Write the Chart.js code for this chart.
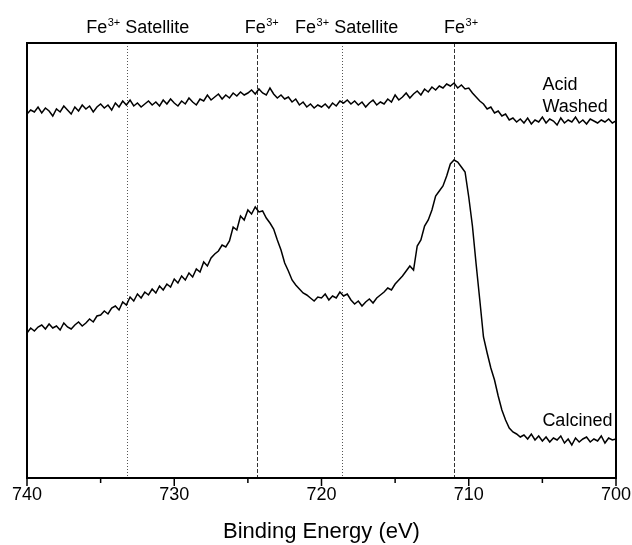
<!DOCTYPE html>
<html>
<head>
<meta charset="utf-8">
<script src="https://cdn.jsdelivr.net/npm/chart.js@4/dist/chart.umd.min.js"></script>
<style>
  html, body { margin: 0; padding: 0; background: #fff; }
  canvas { display: block; }
</style>
</head>
<body>
<canvas id="xps-chart" width="632" height="545"></canvas>
<script>
// --- DATA (intensity in arbitrary units, sampled every 0.25 eV from 740 down to 700) ---
const ENERGY_START = 740;
const ENERGY_STEP = 0.25;

const acidWashed = [
  364, 368, 366, 371, 365, 370, 367, 362,   // 740 - 738.25
  369, 366, 372, 368, 364, 371, 367, 373,   // 738 - 736.25
  369, 372, 366, 371, 374, 370, 373, 368,   // 736 - 734.25
  375, 371, 377, 373, 378, 372, 375, 371,   // 734 - 732.25
  374, 377, 373, 376, 372, 378, 374, 379,   // 732 - 730.25
  375, 372, 377, 374, 380, 376, 373, 379,   // 730 - 728.25
  377, 383, 378, 381, 384, 379, 383, 380,   // 728 - 726.25
  385, 382, 386, 383, 385, 388, 384, 389,   // 726 - 724.25
  385, 383, 390, 384, 380, 383, 379, 381,   // 724 - 722.25
  376, 379, 373, 376, 371, 374, 370, 373,   // 722 - 720.25
  371, 374, 370, 375, 372, 377, 375, 378,   // 720 - 718.25
  374, 377, 373, 376, 371, 375, 378, 373,   // 718 - 716.25
  376, 374, 379, 376, 383, 378, 381, 385,   // 716 - 714.25
  380, 384, 387, 383, 389, 386, 391, 388,   // 714 - 712.25
  392, 390, 394, 392, 395, 390, 393, 389,   // 712 - 710.25
  390, 385, 381, 377, 374, 369, 371, 365,   // 710 - 708.25
  367, 362, 364, 358, 360, 356, 359, 355,   // 708 - 706.25
  360, 354, 358, 356, 361, 355, 359, 357,   // 706 - 704.25
  353, 360, 355, 358, 356, 361, 355, 358,   // 704 - 702.25
  354, 359, 357, 355, 358, 356, 359, 355,   // 702 - 700.25
  357                                       // 700
];

const calcined = [
  145, 150, 147, 151, 153, 149, 154, 150,   // 740 - 738.25
  152, 148, 155, 151, 149, 153, 156, 152,   // 738 - 736.25
  155, 159, 156, 162, 163, 167, 164, 170,   // 736 - 734.25
  172, 168, 176, 173, 181, 177, 184, 180,   // 734 - 732.25
  186, 183, 189, 185, 192, 188, 194, 191,   // 732 - 730.25
  199, 195, 202, 198, 205, 201, 209, 206,   // 730 - 728.25
  216, 212, 220, 224, 227, 233, 231, 237,   // 728 - 726.25
  251, 248, 262, 258, 268, 264, 271, 266,   // 726 - 724.25
  267, 260, 255, 249, 238, 228, 215, 207,   // 724 - 722.25
  198, 193, 189, 185, 183, 180, 177, 181,   // 722 - 720.25
  180, 184, 178, 182, 180, 186, 182, 184,   // 720 - 718.25
  178, 174, 177, 172, 176, 179, 175, 180,   // 718 - 716.25
  183, 186, 190, 188, 194, 198, 202, 207,   // 716 - 714.25
  212, 208, 232, 238, 252, 258, 268, 282,   // 714 - 712.25
  287, 292, 302, 314, 318, 316, 311, 306,   // 712 - 710.25
  281, 252, 214, 178, 141, 125, 110, 98,    // 710 - 708.25
  82, 68, 58, 50, 46, 44, 41, 43,           // 708 - 706.25
  39, 44, 38, 42, 37, 41, 36, 40,           // 706 - 704.25
  38, 42, 35, 39, 33, 40, 36, 39,           // 704 - 702.25
  41, 36, 39, 37, 42, 35, 40, 38,           // 702 - 700.25
  39                                        // 700
];

// reference peak positions (eV)
const markerEnergies = [733.2, 724.4, 718.6, 711.0];
const markerSuffixes = [' Satellite', '', ' Satellite', ''];
const markerStyles = ['dotted', 'dashed', 'dotted', 'dashed'];

const xTickValues = [740, 730, 720, 710, 700];
const xMinorTickValues = [735, 725, 715, 705];

// --- STYLE ---
const FONT = '"Liberation Sans", Arial, Helvetica, sans-serif';
const energies = acidWashed.map((_, i) => ENERGY_START - i * ENERGY_STEP);
const toPoints = (values) => values.map((v, i) => ({ x: energies[i], y: v }));

function drawFe(ctx, x, y, suffix) {
    ctx.font = `18px ${FONT}`;
    ctx.fillText('Fe', x, y);
    let w = ctx.measureText('Fe').width + 0.5;
    ctx.font = `11px ${FONT}`;
    ctx.fillText('3+', x + w, y - 7);
    w += ctx.measureText('3+').width;
    ctx.font = `18px ${FONT}`;
    ctx.fillText(suffix, x + w, y);
}

const decorations = {
    id: 'decorations',
    beforeDatasetsDraw(chart) {
        const { ctx, chartArea, scales } = chart;
        ctx.save();
        ctx.lineWidth = 1;
        markerEnergies.forEach((e, i) => {
            const px = Math.round(scales.x.getPixelForValue(e)) + 0.5;
            ctx.strokeStyle = markerStyles[i] === 'dotted' ? '#555' : '#333';
            ctx.setLineDash(markerStyles[i] === 'dotted' ? [1, 2] : [4, 2]);
            ctx.beginPath();
            ctx.moveTo(px, chartArea.top);
            ctx.lineTo(px, chartArea.bottom);
            ctx.stroke();
        });
        ctx.restore();
    },
    afterDraw(chart) {
        const { ctx, chartArea, scales } = chart;
        ctx.save();
        // frame
        ctx.strokeStyle = '#000';
        ctx.lineWidth = 2;
        ctx.strokeRect(chartArea.left, chartArea.top, chartArea.right - chartArea.left, chartArea.bottom - chartArea.top);

        // tick marks
        ctx.lineWidth = 1.5;
        xTickValues.concat(xMinorTickValues).forEach(v => {
            const px = scales.x.getPixelForValue(v);
            const len = xTickValues.includes(v) ? 8 : 5;
            ctx.beginPath();
            ctx.moveTo(px, chartArea.bottom);
            ctx.lineTo(px, chartArea.bottom + len);
            ctx.stroke();
        });

        // peak labels above the frame
        ctx.fillStyle = '#000';
        ctx.textBaseline = 'alphabetic';
        const offsets = [-41, -12, -47, -10];
        markerEnergies.forEach((e, i) => {
            const px = scales.x.getPixelForValue(e);
            drawFe(ctx, px + offsets[i], chartArea.top - 10, markerSuffixes[i]);
        });

        // series labels
        ctx.font = `18px ${FONT}`;
        const lx = scales.x.getPixelForValue(705);
        ctx.fillText('Acid', lx, scales.y.getPixelForValue(388));
        ctx.fillText('Washed', lx, scales.y.getPixelForValue(366));
        ctx.fillText('Calcined', lx, scales.y.getPixelForValue(52));
        ctx.restore();
    }
};

new Chart(document.getElementById('xps-chart'), {
    type: 'line',
    data: {
        datasets: [
            { label: 'Acid Washed', data: toPoints(acidWashed), borderColor: '#000', borderWidth: 1.5, pointRadius: 0, tension: 0, fill: false },
            { label: 'Calcined', data: toPoints(calcined), borderColor: '#000', borderWidth: 1.5, pointRadius: 0, tension: 0, fill: false }
        ]
    },
    options: {
        responsive: false,
        animation: false,
        layout: { padding: { left: 27, right: 16, top: 43, bottom: 0 } },
        plugins: { legend: { display: false }, tooltip: { enabled: false } },
        scales: {
            x: {
                type: 'linear',
                reverse: true,
                min: 700,
                max: 740,
                grid: { display: false, drawTicks: false },
                border: { display: false },
                ticks: { stepSize: 10, color: '#000', padding: 6, font: { family: FONT, size: 18 } },
                title: { display: true, text: 'Binding Energy (eV)', color: '#000', font: { family: FONT, size: 22 }, padding: { top: 0, bottom: 0 } },
                afterFit: (axis) => {
                    axis.height = 67;
                    axis.paddingLeft = 0;
                    axis.paddingRight = 0;
                }
            },
            y: {
                display: false,
                min: 0,
                max: 435
            }
        }
    },
    plugins: [decorations]
});
</script>
</body>
</html>
